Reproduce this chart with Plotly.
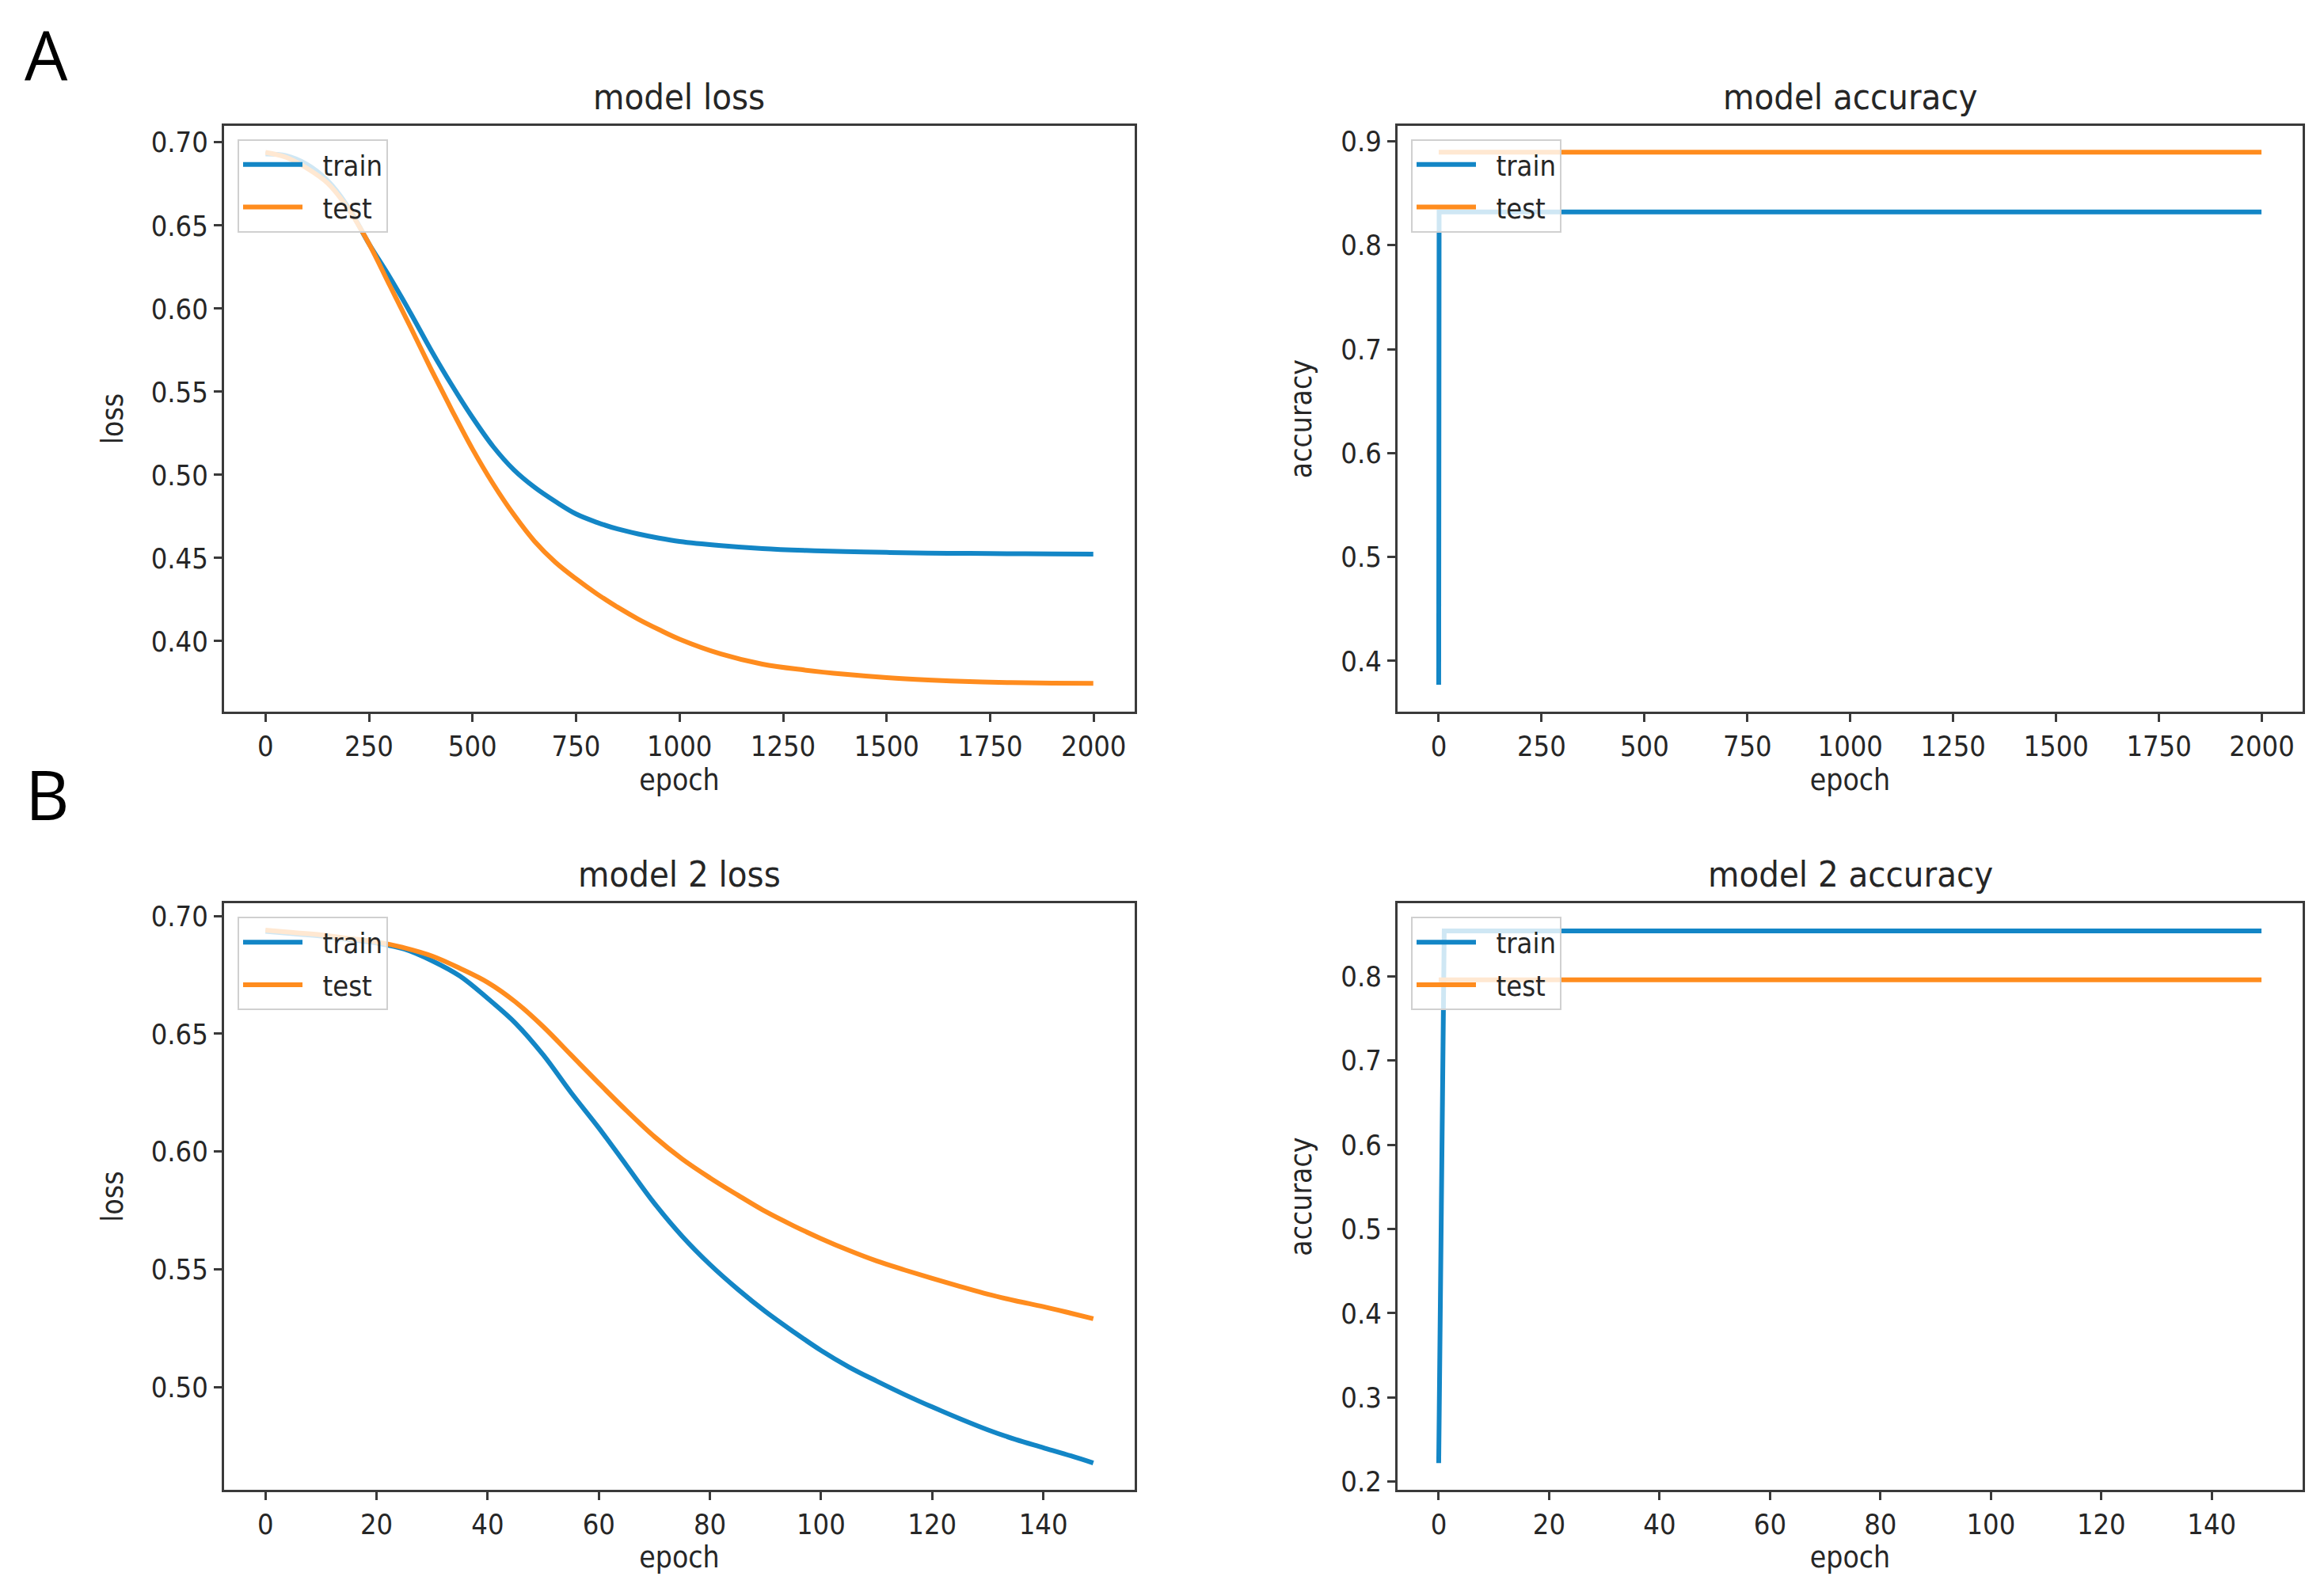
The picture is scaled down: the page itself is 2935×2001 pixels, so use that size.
import plotly.graph_objects as go

# page (screenshot) size and the default 8px body margin of the written page
PAGE_W, PAGE_H = 2935, 2001
OFF = 8
W, H = PAGE_W - 2 * OFF, PAGE_H - 2 * OFF

# ---------------- data ----------------
lossA_epochs = [0, 50, 100, 150, 200, 250, 300, 350, 400, 450, 500, 550, 600, 650, 700, 750,
                800, 850, 900, 950, 1000, 1100, 1200, 1300, 1400, 1500, 1600, 1700, 1800, 1900, 1999]
lossA_train = [0.693, 0.692, 0.6868, 0.677, 0.661, 0.639, 0.619, 0.5975, 0.575, 0.554, 0.5345,
               0.517, 0.503, 0.4925, 0.484, 0.4765, 0.4715, 0.4675, 0.4645, 0.462, 0.460,
               0.4575, 0.4557, 0.4546, 0.4539, 0.4534, 0.453, 0.4528, 0.4526, 0.4525, 0.4524]
lossA_test = [0.694, 0.691, 0.6845, 0.6755, 0.660, 0.639, 0.614, 0.589, 0.5635, 0.539, 0.5155,
              0.4945, 0.476, 0.460, 0.4475, 0.4375, 0.4285, 0.4205, 0.4133, 0.407, 0.4012,
              0.3923, 0.3862, 0.3827, 0.3801, 0.3781, 0.3767, 0.3757, 0.3751, 0.3748, 0.3746]

accA_train_epochs = [0, 1, 1999]
accA_train = [0.377, 0.832, 0.832]
accA_test_epochs = [0, 1999]
accA_test = [0.8895, 0.8895]

lossB_epochs = [0, 5, 10, 15, 20, 25, 30, 35, 40, 45, 50, 55, 60, 65, 70, 75, 80, 85, 90, 95,
                100, 105, 110, 115, 120, 125, 130, 135, 140, 145, 149]
lossB_train = [0.6935, 0.6925, 0.6915, 0.690, 0.6885, 0.686, 0.681, 0.6745, 0.665, 0.6545, 0.641,
               0.625, 0.610, 0.594, 0.578, 0.564, 0.552, 0.5415, 0.532, 0.5235, 0.5155, 0.5085,
               0.5025, 0.4968, 0.4915, 0.4865, 0.4818, 0.4777, 0.4742, 0.4707, 0.4677]
lossB_test = [0.694, 0.693, 0.692, 0.6905, 0.689, 0.6865, 0.683, 0.6778, 0.6718, 0.6635, 0.653,
              0.641, 0.629, 0.6173, 0.6063, 0.5968, 0.5888, 0.5815, 0.5745, 0.5685, 0.563, 0.558,
              0.5535, 0.5497, 0.5461, 0.5427, 0.5394, 0.5366, 0.5341, 0.5313, 0.529]

accB_train_epochs = [0, 1, 149]
accB_train = [0.222, 0.854, 0.854]
accB_test_epochs = [0, 149]
accB_test = [0.796, 0.796]

titles = ["model loss", "model accuracy", "model 2 loss", "model 2 accuracy"]
ylabels = ["loss", "accuracy", "loss", "accuracy"]
series_names = ["train", "test"]
xticksA = [0, 250, 500, 750, 1000, 1250, 1500, 1750, 2000]
xticksB = [0, 20, 40, 60, 80, 100, 120, 140]
yticks_lossA = [0.40, 0.45, 0.50, 0.55, 0.60, 0.65, 0.70]
yticks_accA = [0.4, 0.5, 0.6, 0.7, 0.8, 0.9]
yticks_lossB = [0.50, 0.55, 0.60, 0.65, 0.70]
yticks_accB = [0.2, 0.3, 0.4, 0.5, 0.6, 0.7, 0.8]

# ---------------- style ----------------
BLUE = "#1386c6"
ORANGE = "#ff8c1e"
FONT = "DejaVu Sans Condensed, DejaVu Sans, sans-serif"
TXT = "#262626"
LW = 6
TICK_FS, LABEL_FS, TITLE_FS, LEG_FS = 36, 37, 45, 36
NB = "\u00a0\u00a0"  # small gap between legend line and its label


def px(x):
    return (x - OFF) / W


def py(y):
    return 1 - (y - OFF) / H


# page-pixel layout of axes boxes (left, right, top, bottom)
boxes = [(283, 1433, 155, 901), (1765, 2908, 155, 901),
         (283, 1433, 1145, 1891), (1765, 2908, 1145, 1891)]

fig = go.Figure()

series = [
    (1, lossA_epochs, lossA_train, lossA_epochs, lossA_test),
    (2, accA_train_epochs, accA_train, accA_test_epochs, accA_test),
    (3, lossB_epochs, lossB_train, lossB_epochs, lossB_test),
    (4, accB_train_epochs, accB_train, accB_test_epochs, accB_test),
]
for i, xtr, ytr, xte, yte in series:
    sfx = "" if i == 1 else str(i)
    lg = "legend" if i == 1 else f"legend{i}"
    shape = "spline" if i in (1, 3) else "linear"
    fig.add_trace(go.Scatter(x=xtr, y=ytr, mode="lines", name=NB + series_names[0],
                             line=dict(color=BLUE, width=LW, shape=shape, smoothing=1.0),
                             xaxis="x" + sfx, yaxis="y" + sfx, legend=lg,
                             legendgroup=f"tr{i}"))
    fig.add_trace(go.Scatter(x=xte, y=yte, mode="lines", name=NB + series_names[1],
                             line=dict(color=ORANGE, width=LW, shape=shape, smoothing=1.0),
                             xaxis="x" + sfx, yaxis="y" + sfx, legend=lg,
                             legendgroup=f"te{i}"))

xranges = [[-99.95, 2098.95], [-99.95, 2098.95], [-7.45, 156.45], [-7.45, 156.45]]
yranges = [[0.3575, 0.7100], [0.351, 0.915], [0.4564, 0.7053], [0.1905, 0.8865]]
xtickvals = [xticksA, xticksA, xticksB, xticksB]
ytickvals = [yticks_lossA, yticks_accA, yticks_lossB, yticks_accB]
yfmt = [".2f", ".1f", ".2f", ".1f"]
ystandoff = [24, 26, 24, 26]

layout = dict(width=W, height=H, margin=dict(l=0, r=0, t=0, b=0),
              paper_bgcolor="white", plot_bgcolor="white",
              font=dict(family=FONT, color=TXT, size=TICK_FS))

axis_common = dict(showgrid=False, zeroline=False, showline=True, mirror=True,
                   linecolor="#3a3a3a", linewidth=3, ticks="outside", ticklen=10,
                   tickwidth=3, tickcolor="#3a3a3a",
                   tickfont=dict(family=FONT, size=TICK_FS, color=TXT))

annotations = []
for k, (l, r, t, b) in enumerate(boxes):
    i = k + 1
    sfx = "" if i == 1 else str(i)
    xd = [px(l), px(r)]
    yd = [py(b), py(t)]
    layout["xaxis" + sfx] = dict(axis_common, domain=xd, range=xranges[k],
                                 anchor="y" + sfx, tickmode="array", tickvals=xtickvals[k],
                                 title=dict(text="epoch", standoff=10,
                                            font=dict(family=FONT, size=LABEL_FS, color=TXT)))
    layout["yaxis" + sfx] = dict(axis_common, domain=yd, range=yranges[k],
                                 anchor="x" + sfx, tickmode="array", tickvals=ytickvals[k],
                                 tickformat=yfmt[k],
                                 title=dict(text=ylabels[k], standoff=ystandoff[k],
                                            font=dict(family=FONT, size=LABEL_FS, color=TXT)))
    lgname = "legend" if i == 1 else f"legend{i}"
    layout[lgname] = dict(x=px(l + 17), y=py(t + 17), xanchor="left", yanchor="top",
                          bgcolor="rgba(255,255,255,0.8)", bordercolor="#d0d0d0", borderwidth=2,
                          font=dict(family=FONT, size=LEG_FS, color=TXT), tracegroupgap=4,
                          itemwidth=75)
    annotations.append(dict(text=titles[k], x=px((l + r) / 2), y=py(t - 37),
                            xref="paper", yref="paper", showarrow=False,
                            xanchor="center", yanchor="middle",
                            font=dict(family=FONT, size=TITLE_FS, color=TXT)))

annotations.append(dict(text="A", x=px(59), y=py(64), xref="paper", yref="paper",
                        showarrow=False, xanchor="center", yanchor="middle",
                        font=dict(family="Open Sans, Noto Sans, sans-serif", size=86, color="black")))
annotations.append(dict(text="B", x=px(60), y=py(1005), xref="paper", yref="paper",
                        showarrow=False, xanchor="center", yanchor="middle",
                        font=dict(family="Open Sans, Noto Sans, sans-serif", size=86, color="black")))
layout["annotations"] = annotations
layout["showlegend"] = True

fig.update_layout(**layout)
fig.write_html("out.html")
